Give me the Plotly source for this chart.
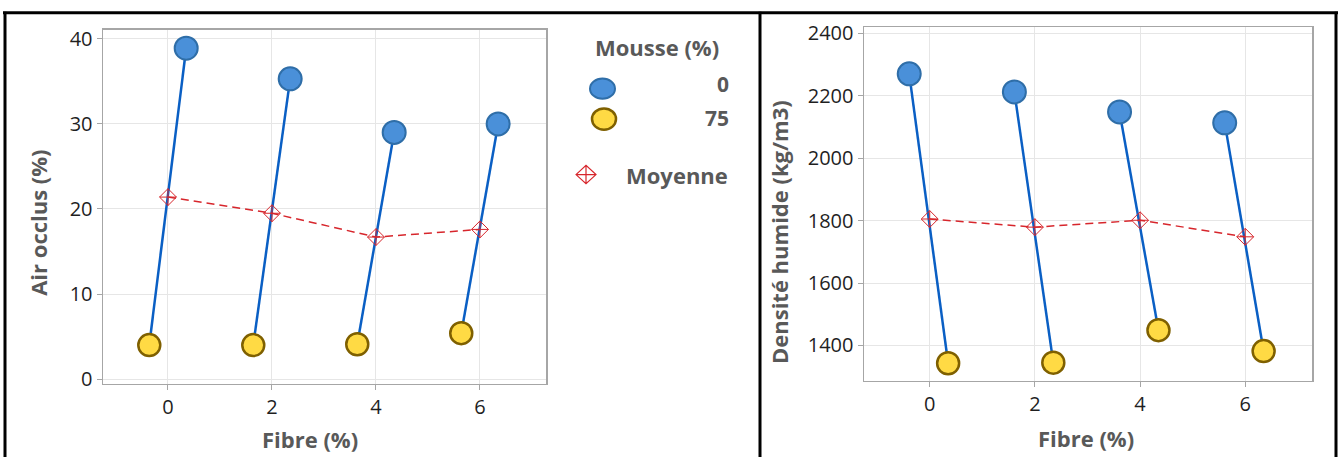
import plotly.graph_objects as go

# ---------------- data ----------------
fibre = [0, 2, 4, 6]
xtick_vals = [0, 2, 4, 6]
mousse_labels = ["0", "75"]

air_mousse0 = [38.9, 35.3, 29.0, 30.0]
air_mousse75 = [4.0, 4.0, 4.1, 5.4]
air_mean = [21.4, 19.5, 16.7, 17.6]

dens_mousse0 = [2270, 2212, 2148, 2113]
dens_mousse75 = [1343, 1345, 1449, 1382]
dens_mean = [1805, 1779, 1801, 1748]

air_yticks = [0, 10, 20, 30, 40]
dens_yticks = [1400, 1600, 1800, 2000, 2200, 2400]

# ---------------- style ----------------
W, H = 1344, 466
FONT = "Open Sans"
BLUE_FILL, BLUE_LINE = "#4A90D9", "#2F6EA8"
YEL_FILL, YEL_LINE = "#FFDA44", "#7F6000"
CONNECT = "#0A5FC4"
RED = "#D7262C"
TITLE_C = "#595959"
TICK_C = "#1f1f1f"


def px(x):
    return x / W


def py(y):
    return 1 - y / H


fig = go.Figure()


def add_panel(xa, ya, v0, v75, vmean, off0, off75):
    # connecting lines between the two mousse levels at each fibre level
    cx, cy = [], []
    for f, a, b in zip(fibre, v75, v0):
        cx += [f + off75, f + off0, None]
        cy += [a, b, None]
    fig.add_trace(go.Scatter(x=cx, y=cy, mode="lines", xaxis=xa, yaxis=ya,
                             line=dict(color=CONNECT, width=2.5),
                             showlegend=False, hoverinfo="skip"))
    fig.add_trace(go.Scatter(x=fibre, y=vmean, mode="lines+markers", xaxis=xa, yaxis=ya,
                             line=dict(color=RED, width=1.5, dash="8px,5px"),
                             marker=dict(symbol="diamond-cross-open", size=13,
                                         color=RED, line=dict(width=1, color=RED)),
                             showlegend=False, name="Moyenne"))
    fig.add_trace(go.Scatter(x=[f + off0 for f in fibre], y=v0, mode="markers",
                             xaxis=xa, yaxis=ya, name=mousse_labels[0],
                             marker=dict(size=23, color=BLUE_FILL,
                                         line=dict(color=BLUE_LINE, width=2)),
                             showlegend=False))
    fig.add_trace(go.Scatter(x=[f + off75 for f in fibre], y=v75, mode="markers",
                             xaxis=xa, yaxis=ya, name=mousse_labels[1],
                             marker=dict(size=22, color=YEL_FILL,
                                         line=dict(color=YEL_LINE, width=2.5)),
                             showlegend=False))


add_panel("x", "y", air_mousse0, air_mousse75, air_mean, 0.35, -0.36)
add_panel("x2", "y2", dens_mousse0, dens_mousse75, dens_mean, -0.39, 0.35)

axis_common = dict(showgrid=True, gridcolor="#e6e6e6", gridwidth=1,
                   showline=True, linecolor="#a6a6a6", linewidth=1.5, mirror=True,
                   ticks="outside", ticklen=5, tickcolor="#a6a6a6",
                   tickfont=dict(family=FONT, size=20, color=TICK_C),
                   zeroline=False, fixedrange=True)

fig.update_layout(
    width=W, height=H,
    margin=dict(l=0, r=0, t=0, b=0),
    paper_bgcolor="white", plot_bgcolor="white",
    showlegend=False, dragmode=False,
    xaxis=dict(domain=[px(103), px(546)], range=[-1.25, 7.27], anchor="y",
               tickvals=xtick_vals, **axis_common),
    yaxis=dict(domain=[py(389), py(22.7)], range=[-0.53, 41.05], anchor="x",
               tickvals=air_yticks, **axis_common),
    xaxis2=dict(domain=[px(864), px(1312)], range=[-1.25, 7.27], anchor="y2",
                tickvals=xtick_vals, **axis_common),
    yaxis2=dict(domain=[py(386), py(20)], range=[1287, 2419], anchor="x2",
                tickvals=dens_yticks, **axis_common),
)

ann = []


def text(x, y, s, size=21, color=TITLE_C, xanchor="center", angle=0, bold=True):
    ann.append(dict(x=px(x), y=py(y), xref="paper", yref="paper", text=s,
                    showarrow=False, xanchor=xanchor, yanchor="middle",
                    textangle=angle,
                    font=dict(family=FONT, size=size, color=color,
                              weight="bold" if bold else "normal")))


text(38.5, 223, "Air occlus (%)", size=22, angle=-90)
text(310, 446, "Fibre (%)", size=22)
text(779, 232, "Densité humide (kg/m3)", size=22, angle=-90)
text(1086, 445, "Fibre (%)", size=22)

# legend (manual)
text(657, 40, "Mousse (%)", size=22)
text(731, 79, mousse_labels[0], size=21, xanchor="right")
text(731, 114, mousse_labels[1], size=21, xanchor="right")
text(624, 173, "Moyenne", size=22, xanchor="left")

shapes = []
shapes.append(dict(type="circle", xref="paper", yref="paper",
                   x0=px(590), x1=px(615), y0=py(94), y1=py(73),
                   fillcolor=BLUE_FILL, line=dict(color=BLUE_LINE, width=2)))
shapes.append(dict(type="circle", xref="paper", yref="paper",
                   x0=px(592), x1=px(616), y0=py(126), y1=py(104),
                   fillcolor=YEL_FILL, line=dict(color=YEL_LINE, width=2.5)))
cxm, cym, hw, hh = 586, 172.5, 10, 9.5
path = (f"M {px(cxm-hw)} {py(cym)} L {px(cxm)} {py(cym-hh)} L {px(cxm+hw)} {py(cym)} "
        f"L {px(cxm)} {py(cym+hh)} Z M {px(cxm-hw)} {py(cym)} L {px(cxm+hw)} {py(cym)} "
        f"M {px(cxm)} {py(cym-hh)} L {px(cxm)} {py(cym+hh)}")
shapes.append(dict(type="path", xref="paper", yref="paper", path=path,
                   line=dict(color=RED, width=1.2)))

# panel borders
for (x0, y0, x1, y1) in [(3, 5, 1338, 5), (5, 4, 5, 465), (760, 4, 760, 465),
                         (1336, 4, 1336, 465)]:
    shapes.append(dict(type="line", xref="paper", yref="paper",
                       x0=px(x0), y0=py(y0), x1=px(x1), y1=py(y1),
                       line=dict(color="black", width=3)))

fig.update_layout(annotations=ann, shapes=shapes)

post = """
var st = document.createElement('style');
st.textContent = 'html,body{margin:0!important;padding:0!important;overflow:hidden!important;'
  + 'width:1344px;height:466px;}'
  + '.plotly-graph-div{overflow:hidden!important;}'
  + 'svg.main-svg{overflow:hidden!important;}';
document.head.appendChild(st);
var gd = document.getElementById('{plot_id}');
gd.style.overflow = 'hidden';
window.scrollTo(0, 0);
"""
fig.write_html("out.html", config={"displayModeBar": False, "staticPlot": True},
               post_script=post)
